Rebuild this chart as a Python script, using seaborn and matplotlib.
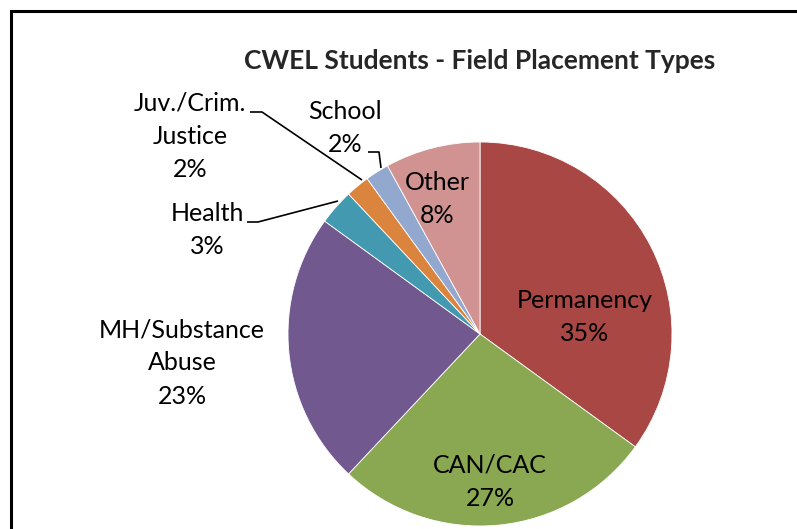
import numpy as np
import matplotlib
matplotlib.use("Agg")
import matplotlib.pyplot as plt
import seaborn as sns

# Field placement types (clockwise from 12 o'clock)
categories = ["Permanency", "CAN/CAC", "MH/Substance\nAbuse", "Health",
              "Juv./Crim.\nJustice", "School", "Other"]
shares = [35, 27, 23, 3, 2, 2, 8]
colors = ["#A94744", "#8AA752", "#71588F", "#4299B0", "#DB843D", "#93A8CF", "#D19392"]

# label anchor positions (image pixels) and leader lines for the outside labels
label_xy = [(585, 317), (490, 482), (182, 363), (207, 230), (190, 136), (345, 128), (437, 199)]
leaders = {3: [(247, 222), (258, 222), (338, 201)],
           4: [(250, 112), (262, 112), (362, 180)],
           5: [(368, 152), (379, 152), (381, 168)]}

sns.set_theme(style="white")
plt.rcParams["font.family"] = ["Lato", "DejaVu Sans"]

W, H = 797, 529
fig = plt.figure(figsize=(W / 100, H / 100), dpi=100)
ax = fig.add_axes([0, 0, 1, 1])

wedges, _ = ax.pie(shares, colors=colors, startangle=-90, counterclock=True,
                   center=(480, 334), radius=192,
                   wedgeprops=dict(edgecolor="white", linewidth=0.6))
ax.set_xlim(0, W)
ax.set_ylim(H, 0)
ax.set_aspect("equal")
ax.axis("off")

total = sum(shares)
for i, (name, v) in enumerate(zip(categories, shares)):
    x, y = label_xy[i]
    ax.text(x, y, f"{name}\n{v / total * 100:.0f}%", ha="center", va="center",
            fontsize=18, linespacing=1.55, color="black")
for pts in leaders.values():
    xs, ys = zip(*pts)
    ax.plot(xs, ys, color="black", lw=1.2, solid_capstyle="butt")

ax.text(480, 61, "CWEL Students - Field Placement Types", ha="center", va="center",
        fontsize=19, fontweight="bold")

# chart area border (top and left edges visible)
ax.plot([11, 11, W], [H, 10.5, 10.5], color="black", lw=2.2, clip_on=False,
        solid_joinstyle="miter")

fig.savefig("out.png", dpi=100)
